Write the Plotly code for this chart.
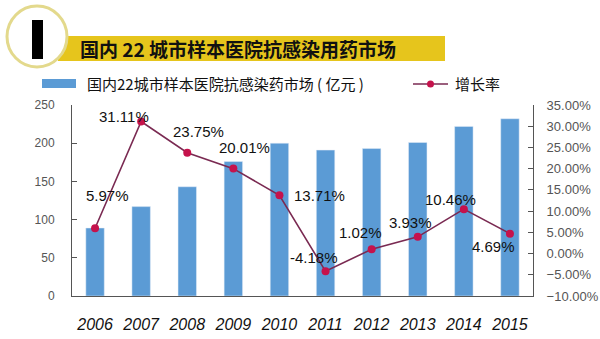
import plotly.graph_objects as go

years = ["2006", "2007", "2008", "2009", "2010", "2011", "2012", "2013", "2014", "2015"]
market = [89, 117, 143, 176, 200, 191, 193, 201, 222, 232]
growth = [5.97, 31.11, 23.75, 20.01, 13.71, -4.18, 1.02, 3.93, 10.46, 4.69]
growth_labels = ["5.97%", "31.11%", "23.75%", "20.01%", "13.71%", "-4.18%", "1.02%", "3.93%", "10.46%", "4.69%"]
label_shift = [(12, 33), (-17, 5), (11, 21), (11, 21), (40, 0), (-12, 14), (-11, 17), (-7, 14), (-13, 10), (-16, -13)]

title_text = "国内 22 城市样本医院抗感染用药市场"
bar_name = "国内22城市样本医院抗感染药市场 ( 亿元 )"
line_name = "增长率"

xpos = [int(y) for y in years]

W, H = 600, 339
L, R, T, B = 72, 67, 105, 43
pw, ph = W - L - R, H - T - B

def px(x):
    return (x - L) / pw

def py(y):
    return (H - B - y) / ph

BAR_COLOR = "#5B9BD5"
LINE_COLOR = "#7A2A52"
MARK_COLOR = "#C5124C"
FONT = "Liberation Sans, Arial, sans-serif"
CJK = "Noto Sans CJK SC, sans-serif"

fig = go.Figure()
fig.add_trace(go.Bar(x=xpos, y=market, marker_color=BAR_COLOR, width=0.4,
                     name=bar_name, showlegend=False))
fig.add_trace(go.Scatter(x=xpos, y=growth, yaxis="y2", mode="lines+markers",
                         line=dict(color=LINE_COLOR, width=1.6),
                         marker=dict(color=MARK_COLOR, size=8),
                         name=line_name, showlegend=False))

annotations = []
for xv, g, lab, (dx, dy) in zip(xpos, growth, growth_labels, label_shift):
    annotations.append(dict(x=xv, y=g, xref="x", yref="y2", text=lab, showarrow=False,
                            xshift=dx, yshift=dy,
                            font=dict(family=FONT, size=15, color="#111111")))

shapes = []
# banner
shapes.append(dict(type="rect", xref="paper", yref="paper",
                   x0=px(58), x1=px(445), y0=py(36), y1=py(61),
                   fillcolor="#E6C51C", line=dict(width=0), layer="above"))
# circle
shapes.append(dict(type="circle", xref="paper", yref="paper",
                   x0=px(7), x1=px(67), y0=py(6), y1=py(67),
                   fillcolor="white", line=dict(color="#E3D98C", width=3), layer="above"))
shapes.append(dict(type="rect", xref="paper", yref="paper",
                   x0=px(32), x1=px(43), y0=py(20), y1=py(59),
                   fillcolor="black", line=dict(width=0), layer="above"))
# legend symbols
shapes.append(dict(type="rect", xref="paper", yref="paper",
                   x0=px(42), x1=px(76), y0=py(79), y1=py(88),
                   fillcolor=BAR_COLOR, line=dict(width=0)))
shapes.append(dict(type="line", xref="paper", yref="paper",
                   x0=px(413), x1=px(448), y0=py(84), y1=py(84),
                   line=dict(color=LINE_COLOR, width=1.6)))
shapes.append(dict(type="circle", xref="paper", yref="paper",
                   x0=px(427), x1=px(434), y0=py(80.5), y1=py(87.5),
                   fillcolor=MARK_COLOR, line=dict(width=0)))

annotations.append(dict(x=px(78), y=py(49), xref="paper", yref="paper", text=title_text,
                        showarrow=False, xanchor="left", yanchor="middle",
                        font=dict(family=CJK, size=19, color="#111111", weight="bold")))
annotations.append(dict(x=px(85), y=py(84), xref="paper", yref="paper", text=bar_name,
                        showarrow=False, xanchor="left", yanchor="middle",
                        font=dict(family=CJK, size=15, color="#111111")))
annotations.append(dict(x=px(453), y=py(84), xref="paper", yref="paper", text=line_name,
                        showarrow=False, xanchor="left", yanchor="middle",
                        font=dict(family=CJK, size=15, color="#111111")))

fig.update_layout(
    width=W, height=H,
    margin=dict(l=L, r=R, t=T, b=B, autoexpand=False),
    paper_bgcolor="white", plot_bgcolor="white",
    xaxis=dict(range=[xpos[0] - 0.5, xpos[-1] + 0.5], tickvals=xpos, ticktext=years,
               showgrid=False, showline=True, linecolor="#555555", zeroline=False,
               linewidth=1, ticks="", ticklabelstandoff=14, automargin=False,
               tickfont=dict(family=FONT, size=16, color="#111111", style="italic")),
    yaxis=dict(range=[0, 250], dtick=50, showgrid=False, showline=True, linecolor="#555555",
               linewidth=1, ticks="inside", ticklen=5, tickcolor="#555555",
               zeroline=False, ticklabelstandoff=14, automargin=False,
               tickfont=dict(family=FONT, size=12, color="#555555")),
    yaxis2=dict(range=[-10, 35], dtick=5, overlaying="y", side="right", showgrid=False,
                showline=True, linecolor="#555555", linewidth=1, ticks="inside", ticklen=5,
                tickcolor="#555555", zeroline=False, tickformat=".2f", ticksuffix="%",
                ticklabelstandoff=10, automargin=False,
                tickfont=dict(family=FONT, size=13, color="#555555")),
    annotations=annotations,
    shapes=shapes,
    showlegend=False,
)

fig.write_html("out.html")
